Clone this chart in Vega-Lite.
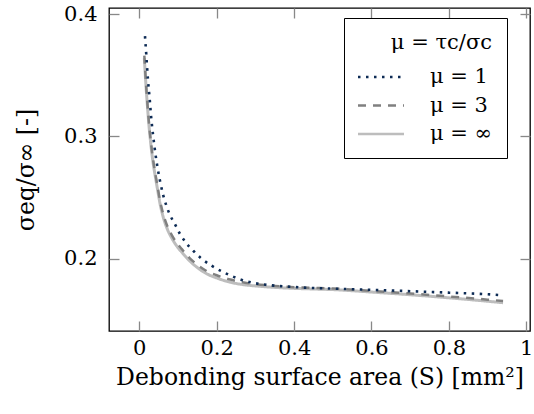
{
  "$schema": "https://vega.github.io/schema/vega-lite/v6.json",
  "width": 421,
  "height": 323,
  "autosize": {"type": "none"},
  "padding": {"left": 109, "top": 8, "right": 4, "bottom": 83},
  "background": "white",
  "config": {
    "view": {"stroke": "#000", "strokeWidth": 1.3},
    "font": "DejaVu Serif",
    "axis": {
      "labelFont": "DejaVu Serif", "labelFontSize": 21, "labelColor": "#000",
      "titleFont": "DejaVu Serif", "titleFontSize": 23.5, "titleFontWeight": "normal", "titleColor": "#000",
      "domain": false, "grid": false, "ticks": true, "tickColor": "#888", "tickWidth": 1.3, "tickSize": 10, "offset": -10, "zindex": 1
    },
    "legend": {
      "titleFont": "DejaVu Serif", "titleFontSize": 21, "titleFontWeight": "normal", "titleColor": "#000",
      "labelFont": "DejaVu Serif", "labelFontSize": 21, "labelColor": "#000",
      "symbolType": "M-2,0H2", "symbolSize": 529, "symbolStrokeWidth": 2.5, "symbolOffset": 10,
      "labelOffset": 36, "padding": 14, "strokeColor": "#000", "fillColor": "#fff",
      "rowPadding": 5.5, "titlePadding": 11, "titleAnchor": "end"
    }
  },
  "data": {"values": [
    {"S": 0.013, "v": 0.364, "mu": "μ = ∞"},
    {"S": 0.015, "v": 0.353, "mu": "μ = ∞"},
    {"S": 0.018, "v": 0.338, "mu": "μ = ∞"},
    {"S": 0.021, "v": 0.325, "mu": "μ = ∞"},
    {"S": 0.025, "v": 0.309, "mu": "μ = ∞"},
    {"S": 0.030, "v": 0.293, "mu": "μ = ∞"},
    {"S": 0.035, "v": 0.280, "mu": "μ = ∞"},
    {"S": 0.041, "v": 0.268, "mu": "μ = ∞"},
    {"S": 0.047, "v": 0.257, "mu": "μ = ∞"},
    {"S": 0.054, "v": 0.2445, "mu": "μ = ∞"},
    {"S": 0.062, "v": 0.234, "mu": "μ = ∞"},
    {"S": 0.071, "v": 0.2255, "mu": "μ = ∞"},
    {"S": 0.084, "v": 0.217, "mu": "μ = ∞"},
    {"S": 0.097, "v": 0.2105, "mu": "μ = ∞"},
    {"S": 0.11, "v": 0.2055, "mu": "μ = ∞"},
    {"S": 0.13, "v": 0.1985, "mu": "μ = ∞"},
    {"S": 0.15, "v": 0.193, "mu": "μ = ∞"},
    {"S": 0.175, "v": 0.1878, "mu": "μ = ∞"},
    {"S": 0.2, "v": 0.1845, "mu": "μ = ∞"},
    {"S": 0.235, "v": 0.181, "mu": "μ = ∞"},
    {"S": 0.27, "v": 0.179, "mu": "μ = ∞"},
    {"S": 0.3, "v": 0.178, "mu": "μ = ∞"},
    {"S": 0.35, "v": 0.1768, "mu": "μ = ∞"},
    {"S": 0.4, "v": 0.176, "mu": "μ = ∞"},
    {"S": 0.45, "v": 0.1755, "mu": "μ = ∞"},
    {"S": 0.5, "v": 0.175, "mu": "μ = ∞"},
    {"S": 0.6, "v": 0.173, "mu": "μ = ∞"},
    {"S": 0.7, "v": 0.1708, "mu": "μ = ∞"},
    {"S": 0.8, "v": 0.1683, "mu": "μ = ∞"},
    {"S": 0.9, "v": 0.1655, "mu": "μ = ∞"},
    {"S": 0.94, "v": 0.1643, "mu": "μ = ∞"},

    {"S": 0.013, "v": 0.366, "mu": "μ = 3"},
    {"S": 0.015, "v": 0.355, "mu": "μ = 3"},
    {"S": 0.018, "v": 0.340, "mu": "μ = 3"},
    {"S": 0.021, "v": 0.327, "mu": "μ = 3"},
    {"S": 0.025, "v": 0.311, "mu": "μ = 3"},
    {"S": 0.030, "v": 0.2955, "mu": "μ = 3"},
    {"S": 0.035, "v": 0.2825, "mu": "μ = 3"},
    {"S": 0.041, "v": 0.2705, "mu": "μ = 3"},
    {"S": 0.047, "v": 0.2595, "mu": "μ = 3"},
    {"S": 0.054, "v": 0.247, "mu": "μ = 3"},
    {"S": 0.062, "v": 0.2365, "mu": "μ = 3"},
    {"S": 0.071, "v": 0.228, "mu": "μ = 3"},
    {"S": 0.084, "v": 0.2195, "mu": "μ = 3"},
    {"S": 0.097, "v": 0.213, "mu": "μ = 3"},
    {"S": 0.11, "v": 0.208, "mu": "μ = 3"},
    {"S": 0.13, "v": 0.2007, "mu": "μ = 3"},
    {"S": 0.15, "v": 0.1953, "mu": "μ = 3"},
    {"S": 0.175, "v": 0.19, "mu": "μ = 3"},
    {"S": 0.2, "v": 0.1867, "mu": "μ = 3"},
    {"S": 0.235, "v": 0.1832, "mu": "μ = 3"},
    {"S": 0.27, "v": 0.1808, "mu": "μ = 3"},
    {"S": 0.3, "v": 0.1795, "mu": "μ = 3"},
    {"S": 0.35, "v": 0.178, "mu": "μ = 3"},
    {"S": 0.4, "v": 0.177, "mu": "μ = 3"},
    {"S": 0.45, "v": 0.1764, "mu": "μ = 3"},
    {"S": 0.5, "v": 0.1759, "mu": "μ = 3"},
    {"S": 0.6, "v": 0.174, "mu": "μ = 3"},
    {"S": 0.7, "v": 0.1718, "mu": "μ = 3"},
    {"S": 0.8, "v": 0.1694, "mu": "μ = 3"},
    {"S": 0.9, "v": 0.1668, "mu": "μ = 3"},
    {"S": 0.94, "v": 0.1657, "mu": "μ = 3"},

    {"S": 0.0147, "v": 0.382, "mu": "μ = 1"},
    {"S": 0.016, "v": 0.376, "mu": "μ = 1"},
    {"S": 0.018, "v": 0.367, "mu": "μ = 1"},
    {"S": 0.020, "v": 0.357, "mu": "μ = 1"},
    {"S": 0.023, "v": 0.344, "mu": "μ = 1"},
    {"S": 0.027, "v": 0.330, "mu": "μ = 1"},
    {"S": 0.030, "v": 0.318, "mu": "μ = 1"},
    {"S": 0.036, "v": 0.300, "mu": "μ = 1"},
    {"S": 0.042, "v": 0.285, "mu": "μ = 1"},
    {"S": 0.048, "v": 0.273, "mu": "μ = 1"},
    {"S": 0.054, "v": 0.263, "mu": "μ = 1"},
    {"S": 0.061, "v": 0.253, "mu": "μ = 1"},
    {"S": 0.07, "v": 0.2435, "mu": "μ = 1"},
    {"S": 0.08, "v": 0.2355, "mu": "μ = 1"},
    {"S": 0.092, "v": 0.2285, "mu": "μ = 1"},
    {"S": 0.105, "v": 0.2205, "mu": "μ = 1"},
    {"S": 0.12, "v": 0.2135, "mu": "μ = 1"},
    {"S": 0.14, "v": 0.2065, "mu": "μ = 1"},
    {"S": 0.16, "v": 0.2005, "mu": "μ = 1"},
    {"S": 0.187, "v": 0.1945, "mu": "μ = 1"},
    {"S": 0.222, "v": 0.1885, "mu": "μ = 1"},
    {"S": 0.26, "v": 0.1835, "mu": "μ = 1"},
    {"S": 0.3, "v": 0.1802, "mu": "μ = 1"},
    {"S": 0.34, "v": 0.1785, "mu": "μ = 1"},
    {"S": 0.38, "v": 0.1775, "mu": "μ = 1"},
    {"S": 0.42, "v": 0.1767, "mu": "μ = 1"},
    {"S": 0.5, "v": 0.1758, "mu": "μ = 1"},
    {"S": 0.6, "v": 0.1748, "mu": "μ = 1"},
    {"S": 0.7, "v": 0.1737, "mu": "μ = 1"},
    {"S": 0.8, "v": 0.1725, "mu": "μ = 1"},
    {"S": 0.9, "v": 0.1712, "mu": "μ = 1"},
    {"S": 0.937, "v": 0.1704, "mu": "μ = 1"}
  ]},
  "layer": [
    {
      "transform": [{"filter": "datum.mu === 'μ = ∞'"}],
      "mark": {"type": "line", "strokeWidth": 3, "interpolate": "monotone"},
      "encoding": {
        "x": {"field": "S", "type": "quantitative", "scale": {"domain": [-0.0783, 1.0096], "nice": false, "zero": false},
              "axis": {"orient": "bottom", "values": [0, 0.2, 0.4, 0.6, 0.8, 1], "format": "~g", "labelPadding": 6, "title": "Debonding surface area (S) [mm²]", "titlePadding": 7}},
        "y": {"field": "v", "type": "quantitative", "scale": {"domain": [0.1412, 0.4049], "nice": false, "zero": false},
              "axis": {"orient": "left", "values": [0.2, 0.3, 0.4], "format": ".1f", "labelPadding": 12, "title": "σeq/σ∞ [-]", "titlePadding": 25}},
        "color": {"field": "mu", "type": "nominal",
                  "scale": {"domain": ["μ = 1", "μ = 3", "μ = ∞"], "range": ["#0d2b55", "#808080", "#bdbdbd"]},
                  "legend": {"orient": "none", "legendX": 235, "legendY": 10, "title": "μ = τc/σc", "labelExpr": "datum.label + '\u2003\u2002\u2005'"}},
        "strokeDash": {"field": "mu", "type": "nominal",
                  "scale": {"domain": ["μ = 1", "μ = 3", "μ = ∞"], "range": [[2.5, 5.5], [8, 7], [1, 0]]},
                  "legend": {"orient": "none", "legendX": 235, "legendY": 10, "title": "μ = τc/σc", "labelExpr": "datum.label + '\u2003\u2002\u2005'"}}
      }
    },
    {
      "transform": [{"filter": "datum.mu === 'μ = 3'"}],
      "mark": {"type": "line", "strokeWidth": 2.5, "interpolate": "monotone"},
      "encoding": {
        "x": {"field": "S", "type": "quantitative", "axis": null},
        "y": {"field": "v", "type": "quantitative", "axis": null},
        "color": {"field": "mu", "type": "nominal"},
        "strokeDash": {"field": "mu", "type": "nominal"}
      }
    },
    {
      "transform": [{"filter": "datum.mu === 'μ = 1'"}],
      "mark": {"type": "line", "strokeWidth": 2.6, "interpolate": "monotone"},
      "encoding": {
        "x": {"field": "S", "type": "quantitative",
              "axis": {"orient": "top", "values": [0, 0.2, 0.4, 0.6, 0.8, 1], "labels": false, "title": null}},
        "y": {"field": "v", "type": "quantitative",
              "axis": {"orient": "right", "values": [0.2, 0.3, 0.4], "labels": false, "title": null}},
        "color": {"field": "mu", "type": "nominal"},
        "strokeDash": {"field": "mu", "type": "nominal"}
      }
    }
  ]
}
